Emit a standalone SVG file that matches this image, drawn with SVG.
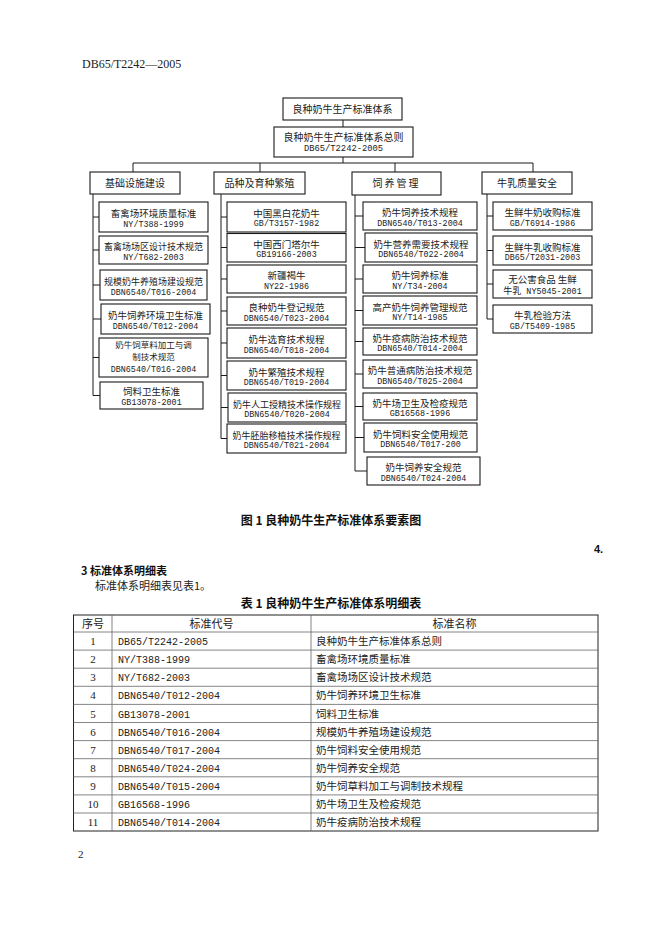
<svg xmlns="http://www.w3.org/2000/svg" width="662" height="936" viewBox="0 0 662 936">
<style>
.box{fill:#fff;stroke:#1a1a1a;stroke-width:1.1}
.ln{stroke:#1a1a1a;stroke-width:1;fill:none}
.zh{font-family:"Noto Sans CJK SC",sans-serif;font-size:9.5px;fill:#222;text-anchor:middle}
.zs{font-family:"Noto Sans CJK SC",sans-serif;font-size:9px;fill:#222;text-anchor:middle}
.cd{font-family:"Liberation Mono","Noto Sans CJK SC",monospace;font-size:8.4px;fill:#222;text-anchor:middle}
.hd{font-family:"Liberation Serif","Noto Sans CJK SC",serif;font-size:12px;fill:#222}
.bold{font-family:"Noto Sans CJK SC",sans-serif;font-weight:bold;fill:#111}
.body{font-family:"Noto Sans CJK SC",sans-serif;font-size:11px;fill:#222}
.tz{font-family:"Noto Sans CJK SC",sans-serif;font-size:10.5px;fill:#222}
.tc{font-family:"Liberation Mono",monospace;font-size:10px;fill:#222}
.tn{font-family:"Liberation Serif",serif;font-size:11px;fill:#222;text-anchor:middle}
.tl{stroke:#666;stroke-width:0.8}
.to{stroke:#222;stroke-width:1;fill:none}
</style>

<text class="hd" x="82" y="68">DB65/T2242—2005</text>

<g id="connectors">
  <line class="ln" x1="343" y1="120" x2="343" y2="127"/>
  <line class="ln" x1="343" y1="157" x2="343" y2="163"/>
  <line class="ln" x1="133" y1="163" x2="533" y2="163"/>
  <line class="ln" x1="133" y1="163" x2="133" y2="172"/>
  <line class="ln" x1="260" y1="163" x2="260" y2="172"/>
  <line class="ln" x1="395" y1="163" x2="395" y2="172"/>
  <line class="ln" x1="533" y1="163" x2="533" y2="172"/>
  <path class="ln" d="M93 194V395.5M93 217H99M93 250H99M93 285H100M93 319H101M93 357.5H99M93 395.5H100"/>
  <path class="ln" d="M221 194V438.5M221 217H227M221 247.5H227M221 279H227M221 311H227M221 343H227M221 375.5H227M221 407.5H228M221 438.5H227"/>
  <path class="ln" d="M355 195V471M355 216H363M355 247.5H365M355 279H363M355 310.5H363M355 341.5H363M355 374H363M355 406.5H363M355 437.5H364M355 471H367"/>
  <path class="ln" d="M487 194V319M487 216H493M487 250.5H493M487 284H493M487 319H493"/>
</g>

<g id="root">
  <rect class="box" x="283" y="98" width="119" height="22"/>
  <text class="zh" x="342.5" y="113" style="font-size:10px">良种奶牛生产标准体系</text>
</g>
<g id="general">
  <rect class="box" x="274" y="127" width="139" height="30"/>
  <text class="zh" x="343.5" y="141" style="font-size:10px">良种奶牛生产标准体系总则</text>
  <text class="cd" x="343.5" y="151" style="font-size:8.8px">DB65/T2242-2005</text>
</g>

<g id="cat-infra">
  <rect class="box" x="90" y="172" width="90" height="22"/>
  <text class="zh" x="135" y="187" style="font-size:10px">基础设施建设</text>
</g>
<g id="cat-breed">
  <rect class="box" x="214" y="172" width="91" height="22"/>
  <text class="zh" x="259.5" y="187" style="font-size:10px">品种及育种繁殖</text>
</g>
<g id="cat-feed">
  <rect class="box" x="352" y="172" width="89" height="23"/>
  <text class="zh" x="396.5" y="187" style="font-size:10px;letter-spacing:2px">饲养管理</text>
</g>
<g id="cat-milk">
  <rect class="box" x="482" y="172" width="90" height="22"/>
  <text class="zh" x="527" y="187" style="font-size:10px">牛乳质量安全</text>
</g>

<g id="c1-1"><rect class="box" x="99" y="202" width="109" height="30"/>
  <text class="zh" x="153.5" y="217">畜禽场环境质量标准</text><text class="cd" x="153.5" y="226.5">NY/T388-1999</text></g>
<g id="c1-2"><rect class="box" x="99" y="236" width="109" height="28"/>
  <text class="zs" x="153.5" y="250">畜禽场场区设计技术规范</text><text class="cd" x="153.5" y="259.5">NY/T682-2003</text></g>
<g id="c1-3"><rect class="box" x="100" y="270" width="107" height="30"/>
  <text class="zs" x="153.5" y="285">规模奶牛养殖场建设规范</text><text class="cd" x="153.5" y="294.5">DBN6540/T016-2004</text></g>
<g id="c1-4"><rect class="box" x="101" y="304" width="109" height="30"/>
  <text class="zh" x="155.5" y="319">奶牛饲养环境卫生标准</text><text class="cd" x="155.5" y="328.5">DBN6540/T012-2004</text></g>
<g id="c1-5"><rect class="box" x="99" y="338" width="109" height="39"/>
  <text class="zs" x="153.5" y="347.5" style="font-size:8.5px">奶牛饲草料加工与调</text><text class="zs" x="153.5" y="360" style="font-size:8.5px">制技术规范</text><text class="cd" x="153.5" y="371.5">DBN6540/T016-2004</text></g>
<g id="c1-6"><rect class="box" x="100" y="382" width="103" height="27"/>
  <text class="zh" x="151.5" y="395">饲料卫生标准</text><text class="cd" x="151.5" y="404.5">GB13078-2001</text></g>

<g id="c2-1"><rect class="box" x="227" y="202" width="119" height="30"/>
  <text class="zh" x="286.5" y="216.5">中国黑白花奶牛</text><text class="cd" x="286.5" y="226">GB/T3157-1982</text></g>
<g id="c2-2"><rect class="box" x="227" y="233.5" width="119" height="28.5"/>
  <text class="zh" x="286.5" y="247.5">中国西门塔尔牛</text><text class="cd" x="286.5" y="257">GB19166-2003</text></g>
<g id="c2-3"><rect class="box" x="227" y="265" width="119" height="28"/>
  <text class="zh" x="286.5" y="279">新疆褐牛</text><text class="cd" x="286.5" y="288.5">NY22-1986</text></g>
<g id="c2-4"><rect class="box" x="227" y="297" width="119" height="28"/>
  <text class="zh" x="286.5" y="311">良种奶牛登记规范</text><text class="cd" x="286.5" y="320.5">DBN6540/T023-2004</text></g>
<g id="c2-5"><rect class="box" x="227" y="328" width="119" height="30"/>
  <text class="zh" x="286.5" y="343">奶牛选育技术规程</text><text class="cd" x="286.5" y="352.5">DBN6540/T018-2004</text></g>
<g id="c2-6"><rect class="box" x="227" y="361" width="119" height="29"/>
  <text class="zh" x="286.5" y="375.5">奶牛繁殖技术规程</text><text class="cd" x="286.5" y="385">DBN6540/T019-2004</text></g>
<g id="c2-7"><rect class="box" x="228" y="393" width="118" height="29"/>
  <text class="zs" x="287" y="407.5">奶牛人工授精技术操作规程</text><text class="cd" x="287" y="417">DBN6540/T020-2004</text></g>
<g id="c2-8"><rect class="box" x="227" y="424" width="119" height="29"/>
  <text class="zs" x="286.5" y="438.5">奶牛胚胎移植技术操作规程</text><text class="cd" x="286.5" y="448">DBN6540/T021-2004</text></g>

<g id="c3-1"><rect class="box" x="363" y="202" width="114" height="28"/>
  <text class="zh" x="420" y="216">奶牛饲养技术规程</text><text class="cd" x="420" y="225.5">DBN6540/T013-2004</text></g>
<g id="c3-2"><rect class="box" x="365" y="233" width="112" height="29"/>
  <text class="zh" x="421" y="247.5">奶牛营养需要技术规程</text><text class="cd" x="421" y="257">DBN6540/T022-2004</text></g>
<g id="c3-3"><rect class="box" x="363" y="265" width="114" height="28"/>
  <text class="zh" x="420" y="279">奶牛饲养标准</text><text class="cd" x="420" y="288.5">NY/T34-2004</text></g>
<g id="c3-4"><rect class="box" x="363" y="296" width="114" height="29"/>
  <text class="zh" x="420" y="310.5">高产奶牛饲养管理规范</text><text class="cd" x="420" y="320">NY/T14-1985</text></g>
<g id="c3-5"><rect class="box" x="363" y="328" width="114" height="27"/>
  <text class="zh" x="420" y="341.5">奶牛疫病防治技术规范</text><text class="cd" x="420" y="351">DBN6540/T014-2004</text></g>
<g id="c3-6"><rect class="box" x="363" y="360" width="114" height="28"/>
  <text class="zh" x="420" y="374">奶牛普通病防治技术规范</text><text class="cd" x="420" y="383.5">DBN6540/T025-2004</text></g>
<g id="c3-7"><rect class="box" x="363" y="393" width="114" height="27"/>
  <text class="zh" x="420" y="406.5">奶牛场卫生及检疫规范</text><text class="cd" x="420" y="416">GB16568-1996</text></g>
<g id="c3-8"><rect class="box" x="364" y="423" width="113" height="29"/>
  <text class="zh" x="420.5" y="437.5">奶牛饲料安全使用规范</text><text class="cd" x="420.5" y="447">DBN6540/T017-200</text></g>
<g id="c3-9"><rect class="box" x="367" y="457" width="113" height="28"/>
  <text class="zh" x="423.5" y="471">奶牛饲养安全规范</text><text class="cd" x="423.5" y="480.5">DBN6540/T024-2004</text></g>

<g id="c4-1"><rect class="box" x="493" y="202" width="99" height="28"/>
  <text class="zh" x="542.5" y="216">生鲜牛奶收购标准</text><text class="cd" x="542.5" y="225.5">GB/T6914-1986</text></g>
<g id="c4-2"><rect class="box" x="493" y="236" width="99" height="29"/>
  <text class="zh" x="542.5" y="250.5">生鲜牛乳收购标准</text><text class="cd" x="542.5" y="260">DB65/T2031-2003</text></g>
<g id="c4-3"><rect class="box" x="493" y="270" width="99" height="28"/>
  <text class="zh" x="542.5" y="282.5">无公害食品 生鲜</text><text class="cd" x="542.5" y="294"><tspan style="font-family:'Noto Sans CJK SC',sans-serif;font-size:9px">牛乳</tspan> NY5045-2001</text></g>
<g id="c4-4"><rect class="box" x="493" y="305" width="99" height="28"/>
  <text class="zh" x="542.5" y="319">牛乳检验方法</text><text class="cd" x="542.5" y="328.5">GB/T5409-1985</text></g>

<text class="bold" x="331" y="525" text-anchor="middle" style="font-size:12px">图 1 良种奶牛生产标准体系要素图</text>
<text class="bold" x="594" y="553" style="font-size:11px;font-family:'Liberation Sans',sans-serif">4.</text>
<text class="bold" x="81" y="575" style="font-size:11px">3 标准体系明细表</text>
<text class="body" x="95" y="590">标准体系明细表见表1。</text>
<text class="bold" x="331" y="608" text-anchor="middle" style="font-size:12px">表 1 良种奶牛生产标准体系明细表</text>

<g id="table">
  <rect class="to" x="73.5" y="615" width="524.5" height="216"/>
  <line class="tl" x1="112" y1="615" x2="112" y2="831"/>
  <line class="tl" x1="311" y1="615" x2="311" y2="831"/>
  <g class="tl">
    <line x1="73.5" y1="632" x2="598" y2="632"/>
    <line x1="73.5" y1="650.1" x2="598" y2="650.1"/>
    <line x1="73.5" y1="668.2" x2="598" y2="668.2"/>
    <line x1="73.5" y1="686.3" x2="598" y2="686.3"/>
    <line x1="73.5" y1="704.4" x2="598" y2="704.4"/>
    <line x1="73.5" y1="722.5" x2="598" y2="722.5"/>
    <line x1="73.5" y1="740.6" x2="598" y2="740.6"/>
    <line x1="73.5" y1="758.7" x2="598" y2="758.7"/>
    <line x1="73.5" y1="776.8" x2="598" y2="776.8"/>
    <line x1="73.5" y1="794.9" x2="598" y2="794.9"/>
    <line x1="73.5" y1="813" x2="598" y2="813"/>
  </g>
  <text class="tz" x="93" y="627.5" text-anchor="middle" style="font-size:11px">序号</text>
  <text class="tz" x="211.5" y="627.5" text-anchor="middle" style="font-size:11px">标准代号</text>
  <text class="tz" x="454.5" y="627.5" text-anchor="middle" style="font-size:11px">标准名称</text>

  <text class="tn" x="93" y="645">1</text><text class="tc" x="118" y="645">DB65/T2242-2005</text><text class="tz" x="316" y="645">良种奶牛生产标准体系总则</text>
  <text class="tn" x="93" y="663">2</text><text class="tc" x="118" y="663">NY/T388-1999</text><text class="tz" x="316" y="663">畜禽场环境质量标准</text>
  <text class="tn" x="93" y="681">3</text><text class="tc" x="118" y="681">NY/T682-2003</text><text class="tz" x="316" y="681">畜禽场场区设计技术规范</text>
  <text class="tn" x="93" y="699">4</text><text class="tc" x="118" y="699">DBN6540/T012-2004</text><text class="tz" x="316" y="699">奶牛饲养环境卫生标准</text>
  <text class="tn" x="93" y="717.5">5</text><text class="tc" x="118" y="717.5">GB13078-2001</text><text class="tz" x="316" y="717.5">饲料卫生标准</text>
  <text class="tn" x="93" y="735.5">6</text><text class="tc" x="118" y="735.5">DBN6540/T016-2004</text><text class="tz" x="316" y="735.5">规模奶牛养殖场建设规范</text>
  <text class="tn" x="93" y="753.5">7</text><text class="tc" x="118" y="753.5">DBN6540/T017-2004</text><text class="tz" x="316" y="753.5">奶牛饲料安全使用规范</text>
  <text class="tn" x="93" y="771.5">8</text><text class="tc" x="118" y="771.5">DBN6540/T024-2004</text><text class="tz" x="316" y="771.5">奶牛饲养安全规范</text>
  <text class="tn" x="93" y="790">9</text><text class="tc" x="118" y="790">DBN6540/T015-2004</text><text class="tz" x="316" y="790">奶牛饲草料加工与调制技术规程</text>
  <text class="tn" x="93" y="808">10</text><text class="tc" x="118" y="808">GB16568-1996</text><text class="tz" x="316" y="808">奶牛场卫生及检疫规范</text>
  <text class="tn" x="93" y="826">11</text><text class="tc" x="118" y="826">DBN6540/T014-2004</text><text class="tz" x="316" y="826">奶牛疫病防治技术规程</text>
</g>

<text class="hd" x="78" y="858" style="font-size:11px">2</text>
</svg>
